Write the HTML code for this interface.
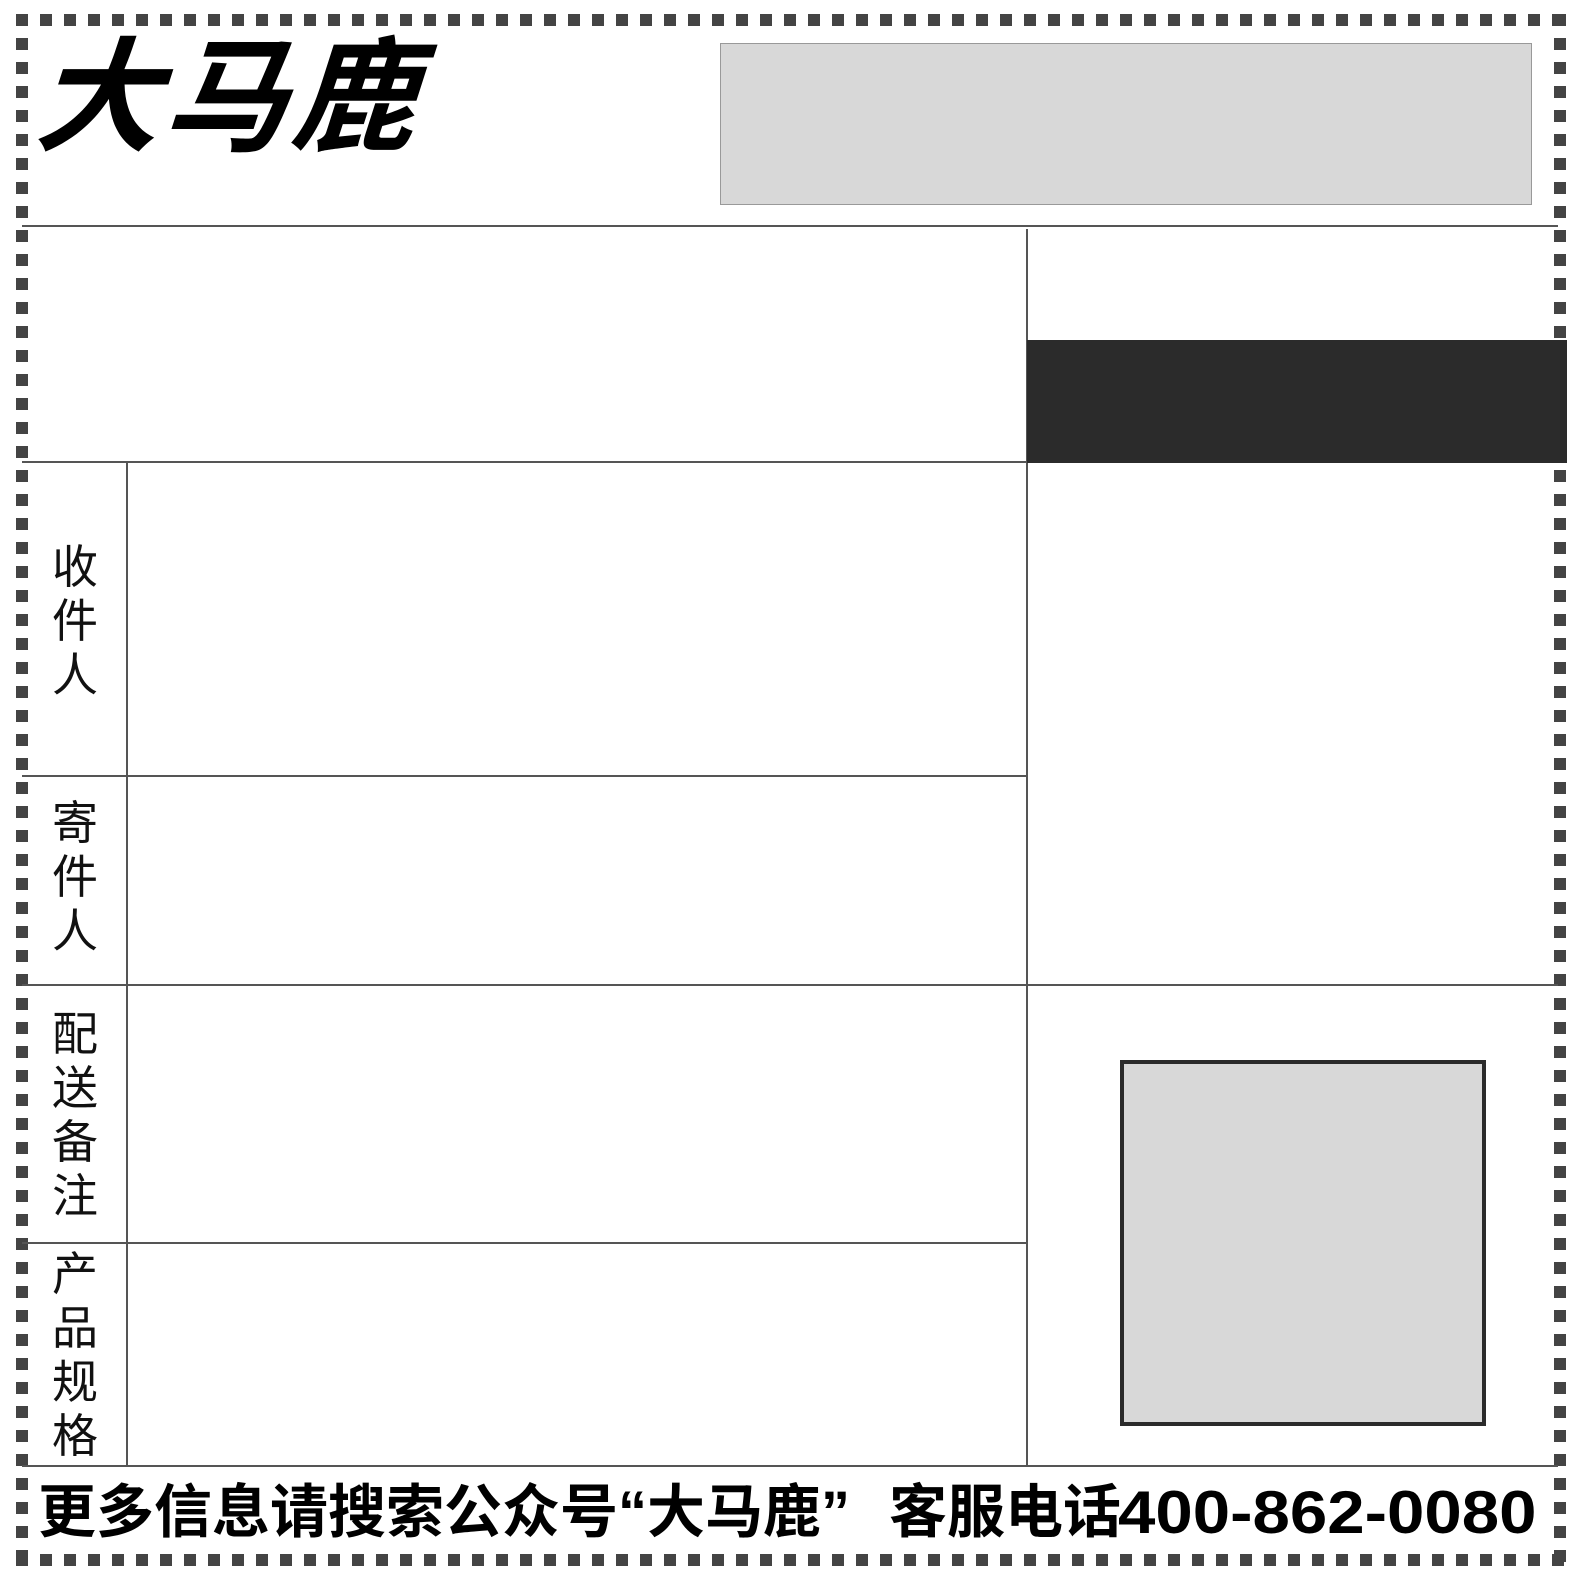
<!DOCTYPE html>
<html><head><meta charset="utf-8"><style>
body{margin:0;width:1580px;height:1580px;background:#fff;position:relative;overflow:hidden;font-family:"Liberation Sans","Noto Sans CJK SC",sans-serif}
div{position:absolute;box-sizing:border-box}
.h{height:2px;background:#555}
.v{width:2px;background:#555}
.lbl{left:50px;width:50px;font-size:46px;line-height:54px;text-align:center;color:#111}
.ft{top:1478px;font-size:58px;font-weight:bold;line-height:70px;white-space:nowrap;color:#000}
</style></head><body>
<div style="left:16px;top:14px;width:1550px;height:12px;background:repeating-linear-gradient(90deg,#444 0 12px,transparent 12px 24px)"></div>
<div style="left:16px;top:1554px;width:1550px;height:12px;background:repeating-linear-gradient(90deg,#444 0 12px,transparent 12px 24px)"></div>
<div style="left:16px;top:14px;width:12px;height:1552px;background:repeating-linear-gradient(180deg,#444 0 12px,transparent 12px 24px)"></div>
<div style="left:1554px;top:14px;width:12px;height:1552px;background:repeating-linear-gradient(180deg,#444 0 12px,transparent 12px 24px)"></div>

<div style="left:36px;top:24px;font-size:124px;font-weight:bold;font-style:italic;line-height:150px;letter-spacing:4px;color:#000;transform:skewX(-4deg)">大马鹿</div>
<div style="left:720px;top:43px;width:812px;height:162px;background:#d8d8d8;border:1px solid #999"></div>

<div class="h" style="left:22px;top:225px;width:1536px"></div>
<div class="h" style="left:22px;top:461px;width:1006px"></div>
<div class="v" style="left:1026px;top:229px;height:1238px"></div>
<div class="v" style="left:126px;top:462px;height:1004px"></div>
<div class="h" style="left:22px;top:775px;width:1006px"></div>
<div class="h" style="left:22px;top:984px;width:1536px"></div>
<div class="h" style="left:22px;top:1242px;width:1006px"></div>
<div class="h" style="left:22px;top:1465px;width:1536px"></div>

<div style="left:1027px;top:340px;width:540px;height:123px;background:#2b2b2b"></div>
<div style="left:1120px;top:1060px;width:366px;height:366px;background:#d8d8d8;border:4px solid #2b2b2b"></div>

<div class="lbl" style="top:540px">收<br>件<br>人</div>
<div class="lbl" style="top:796px">寄<br>件<br>人</div>
<div class="lbl" style="top:1007px">配<br>送<br>备<br>注</div>
<div class="lbl" style="top:1247px">产<br>品<br>规<br>格</div>

<div class="ft" style="left:38px">更多信息请搜索公众号“大马鹿”</div>
<div class="ft" style="left:889px">客服电话</div>
<div class="ft" style="left:1118px;font-size:60px;transform-origin:0 0;transform:scaleX(1.12)">400-862-0080</div>
</body></html>
